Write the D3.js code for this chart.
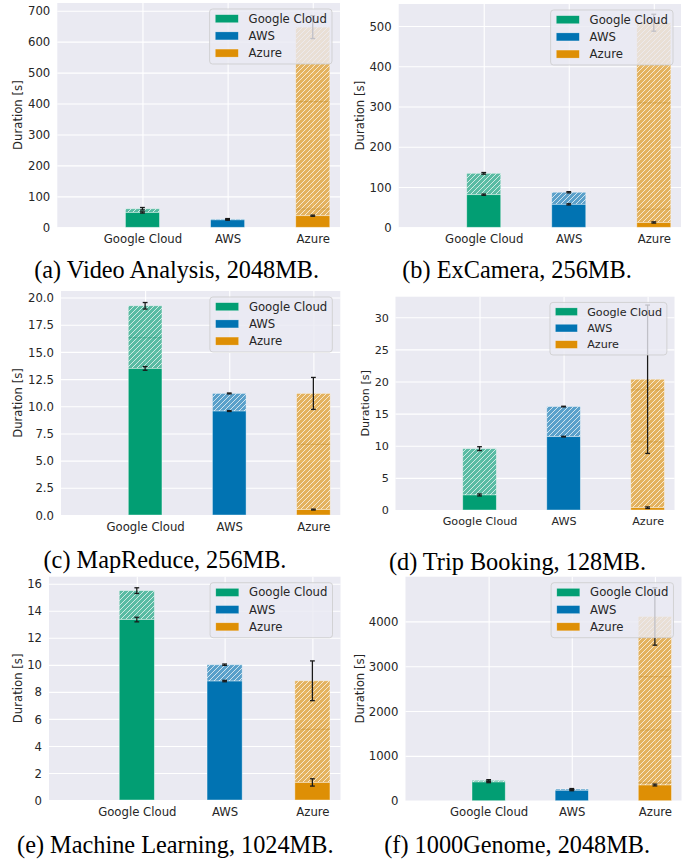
<!DOCTYPE html>
<html>
<head>
<meta charset="utf-8">
<script src="https://cdn.jsdelivr.net/npm/d3@7"></script>
<style>
  html, body { margin: 0; padding: 0; background: #ffffff; }
  svg { display: block; }
</style>
</head>
<body>
<svg id="chart" width="697" height="861"></svg>
<script>
// ---------------- DATA ----------------
const categories = ["Google Cloud", "AWS", "Azure"];
const legendLabels = ["Google Cloud", "AWS", "Azure"];
const captions = [
  "(a) Video Analysis, 2048MB.",
  "(b) ExCamera, 256MB.",
  "(c) MapReduce, 256MB.",
  "(d) Trip Booking, 128MB.",
  "(e) Machine Learning, 1024MB.",
  "(f) 1000Genome, 2048MB."
];
const yLabel = "Duration [s]";
const yTicks = [
  [0, 100, 200, 300, 400, 500, 600, 700],
  [0, 100, 200, 300, 400, 500],
  [0, 2.5, 5, 7.5, 10, 12.5, 15, 17.5, 20],
  [0, 5, 10, 15, 20, 25, 30],
  [0, 2, 4, 6, 8, 10, 12, 14, 16],
  [0, 1000, 2000, 3000, 4000]
];
const yTickDecimals = [0, 0, 1, 0, 0, 0];
// solid (lower) part of each bar, per panel: [Google Cloud, AWS, Azure]
const solidValues = [
  [48, 24, 37.5],
  [81, 57, 12],
  [13.48, 9.56, 0.5],
  [2.34, 11.42, 0.36],
  [13.35, 8.8, 1.3],
  [417, 232, 350]
];
const solidErrors = [
  [2, 1.2, 1.8],
  [1.5, 1.5, 1.5],
  [0.17, 0.04, 0.04],
  [0.15, 0.05, 0.12],
  [0.17, 0.05, 0.27],
  [15, 10, 20]
];
// total (hatched top) of each bar
const totalValues = [
  [60, 27, 647],
  [134, 87, 508],
  [19.24, 11.18, 11.18],
  [9.55, 16.1, 20.35],
  [15.49, 10.01, 8.82],
  [455, 261, 4110]
];
const totalErrors = [
  [4, 1.2, 37],
  [2, 1.5, 21],
  [0.3, 0.04, 1.47],
  [0.3, 0.05, 11.55],
  [0.21, 0.05, 1.47],
  [15, 10, 640]
];
// faint layer boundaries inside the hatched part
const layerMarks = [
  [[], [], [406, 59]],
  [[], [], [309, 45]],
  [[16.3], [], [6.5]],
  [[], [], [18.7, 10.6]],
  [[], [], [5.23]],
  [[], [], [2766, 1577, 400]]
];

// ---------------- STYLE / LAYOUT ----------------
const colors = ["#029E73", "#0173B2", "#DE8F05"];
const layout = [
  { left: 57.3, right: 340,   top: 3.0,   bottom: 227.3, ymax: 725,   labelX: 18.3,  capX: 176.7, capY: 278,   s: 1 },
  { left: 398.7, right: 681,  top: 4.0,   bottom: 227.3, ymax: 554.5, labelX: 359.7, capX: 517,   capY: 278,   s: 1 },
  { left: 61,   right: 340.3, top: 291,   bottom: 515,   ymax: 20.6,  labelX: 18.3,  capX: 165,   capY: 568,   s: 1 },
  { left: 395.5, right: 674.5,top: 296.7, bottom: 510,   ymax: 33.2,  labelX: 365.3, capX: 517.5, capY: 570,   s: 0.955 },
  { left: 49,   right: 340.5, top: 576.7, bottom: 800,   ymax: 16.52, labelX: 18.3,  capX: 175.3, capY: 852.7, s: 1 },
  { left: 405.5, right: 681.5,top: 576.7, bottom: 800.7, ymax: 4997,  labelX: 359.7, capX: 517.2, capY: 853,   s: 1 }
];
const textColor = "#262626";
const bgColor = "#EAEAF2";
const sansFont = "'DejaVu Sans', Verdana, sans-serif";
const serifFont = "'Liberation Serif', 'Times New Roman', serif";

const svg = d3.select("#chart");
const defs = svg.append("defs");
colors.forEach((c, i) => {
  const p = defs.append("pattern")
    .attr("id", "hatch" + i)
    .attr("patternUnits", "userSpaceOnUse")
    .attr("width", 5).attr("height", 5);
  p.append("path")
    .attr("d", "M0,5 L5,0 M-1,1 L1,-1 M4,6 L6,4")
    .attr("stroke", "#ffffff")
    .attr("stroke-opacity", 0.7)
    .attr("stroke-width", 1);
});

layout.forEach((L, pi) => {
  const g = svg.append("g");
  const fs = 11.7 * L.s;

  const x = d3.scaleLinear().domain([-1, 2.32]).range([L.left, L.right]);
  const y = d3.scaleLinear().domain([0, L.ymax]).range([L.bottom, L.top]);
  const bw = x(0.4) - x(0);

  // background
  g.append("rect")
    .attr("x", L.left).attr("y", L.top)
    .attr("width", L.right - L.left).attr("height", L.bottom - L.top)
    .attr("fill", bgColor);

  // grid
  const yAxis = d3.axisLeft(y).tickValues(yTicks[pi])
    .tickSize(-(L.right - L.left)).tickPadding(7 * L.s)
    .tickFormat(d3.format("." + yTickDecimals[pi] + "f"));
  const ya = g.append("g").attr("transform", `translate(${L.left},0)`).call(yAxis);
  ya.select(".domain").remove();
  ya.selectAll(".tick line").attr("stroke", "#ffffff").attr("stroke-width", 1.1);
  ya.selectAll(".tick text")
    .attr("fill", textColor).attr("font-family", sansFont).attr("font-size", fs)
    .attr("dy", "0.35em").attr("x", -7 * L.s);

  const xAxis = d3.axisBottom(x).tickValues([0, 1, 2])
    .tickSize(-(L.bottom - L.top)).tickPadding(0)
    .tickFormat((d) => categories[d]);
  const xa = g.append("g").attr("transform", `translate(0,${L.bottom})`).call(xAxis);
  xa.select(".domain").remove();
  xa.selectAll(".tick line").attr("stroke", "#ffffff").attr("stroke-width", 1.1);
  xa.selectAll(".tick text")
    .attr("fill", textColor).attr("font-family", sansFont).attr("font-size", fs)
    .attr("dy", null).attr("y", 15.5 * L.s);

  // bars
  categories.forEach((cat, ci) => {
    const sv = solidValues[pi][ci];
    const tv = totalValues[pi][ci];
    const bx = x(ci) - bw / 2;
    // hatched part
    g.append("rect")
      .attr("x", bx).attr("y", y(tv)).attr("width", bw).attr("height", y(sv) - y(tv))
      .attr("fill", colors[ci]).attr("fill-opacity", 0.62);
    g.append("rect")
      .attr("x", bx).attr("y", y(tv)).attr("width", bw).attr("height", y(sv) - y(tv))
      .attr("fill", `url(#hatch${ci})`)
      .attr("stroke", "#ffffff").attr("stroke-opacity", 0.45).attr("stroke-width", 0.8);
    // layer boundaries
    layerMarks[pi][ci].forEach((v) => {
      g.append("line")
        .attr("x1", bx).attr("x2", bx + bw).attr("y1", y(v)).attr("y2", y(v))
        .attr("stroke", d3.color(colors[ci]).darker(0.6)).attr("stroke-opacity", 0.35)
        .attr("stroke-width", 0.9);
    });
    // solid part
    g.append("rect")
      .attr("x", bx).attr("y", y(sv)).attr("width", bw).attr("height", y(0) - y(sv))
      .attr("fill", colors[ci])
      .attr("stroke", "#ffffff").attr("stroke-opacity", 0.5).attr("stroke-width", 0.8);
  });

  // error bars
  const cap = 2.4;
  const drawErr = (cx, v, e) => {
    const y1 = y(v + e), y2 = y(Math.max(0, v - e));
    g.append("line").attr("x1", cx).attr("x2", cx).attr("y1", y1).attr("y2", y2)
      .attr("stroke", "#1a1a1a").attr("stroke-width", 1.3);
    [y1, y2].forEach((yy) => {
      g.append("line").attr("x1", cx - cap).attr("x2", cx + cap).attr("y1", yy).attr("y2", yy)
        .attr("stroke", "#1a1a1a").attr("stroke-width", 1.3);
    });
  };
  categories.forEach((cat, ci) => {
    drawErr(x(ci), solidValues[pi][ci], solidErrors[pi][ci]);
    drawErr(x(ci), totalValues[pi][ci], totalErrors[pi][ci]);
  });

  // y label
  g.append("text")
    .attr("transform", `translate(${L.labelX},${(L.top + L.bottom) / 2}) rotate(-90)`)
    .attr("text-anchor", "middle").attr("dy", "0.35em")
    .attr("font-family", sansFont).attr("font-size", fs).attr("fill", textColor)
    .text(yLabel);

  // legend
  const lw = 122.4 * L.s, lh = 55 * L.s;
  const lx = L.right - 8 * L.s - lw, ly = L.top + 6 * L.s;
  const lg = g.append("g").attr("transform", `translate(${lx},${ly})`);
  lg.append("rect")
    .attr("width", lw).attr("height", lh).attr("rx", 3).attr("ry", 3)
    .attr("fill", bgColor).attr("fill-opacity", 0.8)
    .attr("stroke", "#cccccc").attr("stroke-opacity", 0.8).attr("stroke-width", 1);
  legendLabels.forEach((lab, i) => {
    const cy = (9.7 + i * 17.2) * L.s;
    lg.append("rect")
      .attr("x", 5.7 * L.s).attr("y", cy - 4 * L.s)
      .attr("width", 23 * L.s).attr("height", 8 * L.s)
      .attr("fill", colors[i]).attr("stroke", "#ffffff").attr("stroke-opacity", 0.4).attr("stroke-width", 0.6);
    lg.append("text")
      .attr("x", 39 * L.s).attr("y", cy).attr("dy", "0.35em")
      .attr("font-family", sansFont).attr("font-size", fs).attr("fill", textColor)
      .text(lab);
  });

  // caption
  svg.append("text")
    .attr("x", L.capX).attr("y", L.capY)
    .attr("text-anchor", "middle")
    .attr("font-family", serifFont).attr("font-size", 24.3)
    .attr("fill", "#000000")
    .text(captions[pi]);
});
</script>
</body>
</html>
